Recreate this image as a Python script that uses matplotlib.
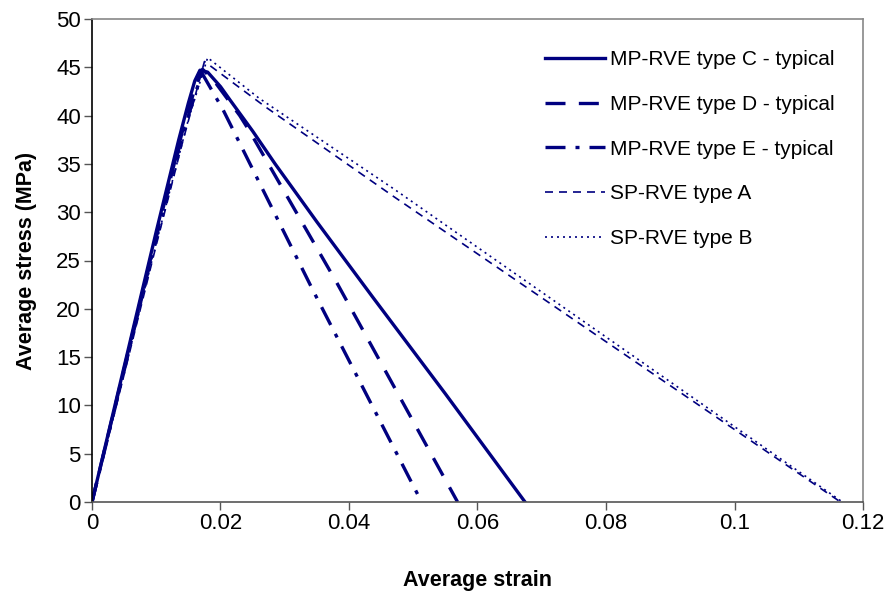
import numpy as np
import matplotlib.pyplot as plt

plt.rcParams['font.family'] = ['Liberation Sans', 'DejaVu Sans']

# strain / stress points
c_strain = [0, 0.005, 0.010, 0.0135, 0.015, 0.016, 0.0168, 0.018, 0.020, 0.0215, 0.025, 0.0285, 0.035, 0.0437, 0.055, 0.0674]
c_stress = [0, 14.0, 28.0, 37.5, 41.3, 43.6, 44.7, 44.5, 43.0, 41.6, 38.4, 35.0, 29.0, 21.2, 11.2, 0]

d_strain = [0, 0.005, 0.010, 0.014, 0.016, 0.0172, 0.019, 0.023, 0.0246, 0.0381, 0.0569]
d_stress = [0, 13.8, 27.6, 38.2, 42.8, 44.8, 43.6, 40.0, 38.3, 22.7, 0]

e_strain = [0, 0.005, 0.010, 0.014, 0.0162, 0.0172, 0.0204, 0.0219, 0.0344, 0.0513]
e_stress = [0, 13.6, 27.4, 37.8, 42.6, 44.3, 40.6, 38.6, 21.9, 0]

a_strain = [0, 0.005, 0.010, 0.014, 0.0175, 0.027, 0.047, 0.1165]
a_stress = [0, 13.2, 26.6, 37.0, 45.6, 40.9, 31.6, 0]

b_strain = [0, 0.005, 0.010, 0.015, 0.018, 0.026, 0.047, 0.1168]
b_stress = [0, 13.4, 26.8, 39.6, 46.0, 41.8, 32.4, 0]

labels = ['MP-RVE type C - typical', 'MP-RVE type D - typical', 'MP-RVE type E - typical',
          'SP-RVE type A', 'SP-RVE type B']

navy = '#000080'

fig = plt.figure(figsize=(8.91, 5.93), dpi=100)
ax = fig.add_axes([92/891, 1 - 502/593, (863 - 92)/891, (502 - 19)/593])

ax.plot(c_strain, c_stress, color=navy, lw=2.4, label=labels[0])
ax.plot(d_strain, d_stress, color=navy, lw=2.4, dashes=(6.0, 4.0), label=labels[1])
ax.plot(e_strain, e_stress, color=navy, lw=2.4, dashes=(6.0, 3.0, 1.2, 3.0), label=labels[2])
ax.plot(a_strain, a_stress, color=navy, lw=1.2, dashes=(4.8, 3.6), label=labels[3])
ax.plot(b_strain, b_stress, color=navy, lw=1.2, dashes=(1.2, 2.4), label=labels[4])

ax.set_xlim(0, 0.12)
ax.set_ylim(0, 50)
ax.set_xticks([0, 0.02, 0.04, 0.06, 0.08, 0.1, 0.12])
ax.set_xticklabels(['0', '0.02', '0.04', '0.06', '0.08', '0.1', '0.12'])
ax.set_yticks(range(0, 51, 5))
ax.tick_params(direction='out', length=6, width=1, colors='#555555', labelcolor='black', labelsize=16, pad=2)

ax.spines['left'].set_color('black')
ax.spines['bottom'].set_color('#555555')
ax.spines['top'].set_color('#888888')
ax.spines['right'].set_color('#888888')
for s in ax.spines.values():
    s.set_linewidth(1.2)

ax.set_xlabel('Average strain', fontsize=15.5, fontweight='bold', labelpad=26)
ax.set_ylabel('Average stress (MPa)', fontsize=15.5, fontweight='bold', labelpad=14)

ax.legend(loc='upper left', bbox_to_anchor=(0.5875, 0.935), frameon=False, fontsize=15,
          borderpad=0, borderaxespad=0, handlelength=2.9, handletextpad=0.2, labelspacing=1.23)

fig.savefig('out.png', dpi=100)
